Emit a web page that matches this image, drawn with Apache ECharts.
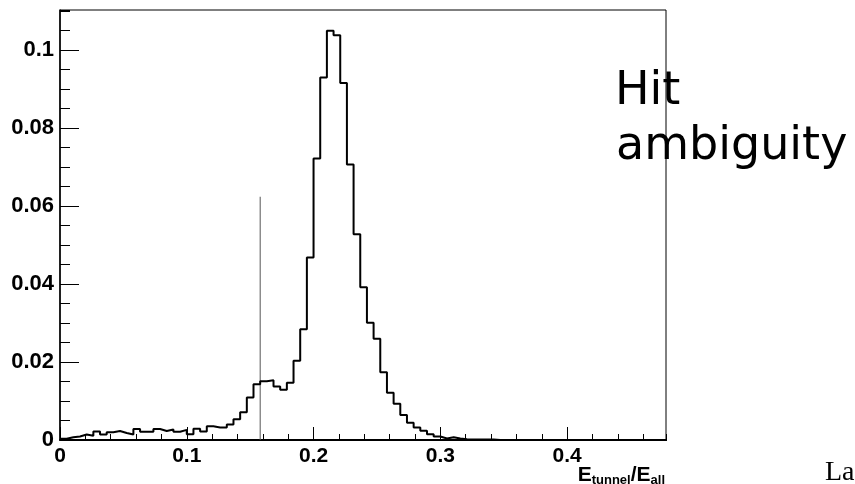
<!DOCTYPE html>
<html><head><meta charset="utf-8">
<script src="https://cdn.jsdelivr.net/npm/echarts@6/dist/echarts.min.js"></script>
<style>html,body{margin:0;padding:0;background:#fff}#c{width:855px;height:484px}</style>
</head><body><div id="c"></div>
<script>
// ---- data ----
const binStart = 0;
const binWidth = 0.005263;
const binValues = [
  0.0003, 0.0007, 0.0009, 0.0014, 0.0011, 0.0022, 0.0014, 0.0020, 0.0023, 0.0018,
  0.0014, 0.0028, 0.0021, 0.0021, 0.0028, 0.0023, 0.0027, 0.0021, 0.0026, 0.0015,
  0.0029, 0.0022, 0.0035, 0.0032, 0.0032, 0.0040, 0.0053, 0.0071, 0.0109, 0.0143,
  0.0151, 0.0153, 0.0137, 0.0129, 0.0147, 0.0203, 0.0284, 0.0468, 0.0722, 0.0930,
  0.1050, 0.1038, 0.0916, 0.0707, 0.0528, 0.0392, 0.0301, 0.0260, 0.0174, 0.0121,
  0.0093, 0.0064, 0.0044, 0.0032, 0.0024, 0.0015, 0.0009, 0.0004, 0.0007, 0.0004,
  0.0002, 0.0001, 0.0001, 0.0001, 0.0001, 0, 0, 0, 0, 0,
  0, 0, 0, 0, 0, 0, 0, 0, 0, 0,
  0, 0, 0, 0, 0, 0, 0, 0, 0, 0, 0
];
const cutX = 0.1579;
const cutTop = 0.0624;
const xRange = [0, 0.478];
const yRange = [0, 0.1103];
const xMajor = 0.1, xMinor = 0.02;
const yMajor = 0.02, yMinor = 0.005;
const xTitle = ['E', 'tunnel', '/E', 'all'];
const noteLines = ['Hit', 'ambiguity'];
const cornerText = 'La';

// ---- build series data ----
const histData = binValues.map((v, i) => [binStart + i * binWidth, v]);
histData.push([binStart + binValues.length * binWidth, binValues[binValues.length - 1]]);
const cutData = [[cutX, 0], [cutX, cutTop]];

const labelFont = { fontFamily: 'Liberation Sans, Arial, sans-serif', fontWeight: 'bold', color: '#000' };
const fmt = v => (Math.abs(v) < 1e-9 ? '0' : String(+v.toFixed(3)));

const chart = echarts.init(document.getElementById('c'), null, { renderer: 'canvas' });
chart.setOption({
  animation: false,
  backgroundColor: '#fff',
  grid: { left: 60, top: 10, right: 189, bottom: 44, show: true, borderColor: '#000', borderWidth: 1, backgroundColor: 'transparent' },
  xAxis: [
    { type: 'value', min: xRange[0], max: xRange[1], interval: xMajor, position: 'bottom',
      axisLine: { show: true, onZero: false, lineStyle: { color: '#000', width: 2 } },
      axisTick: { show: true, inside: true, length: 13, lineStyle: { color: '#000', width: 1 } },
      axisLabel: Object.assign({ fontSize: 21, margin: 6, showMaxLabel: false, formatter: fmt }, labelFont),
      splitLine: { show: false } },
    { type: 'value', min: xRange[0], max: xRange[1], interval: xMinor, position: 'bottom',
      axisLine: { show: false },
      axisTick: { show: true, inside: true, length: 6, lineStyle: { color: '#000', width: 1 } },
      axisLabel: { show: false }, splitLine: { show: false } }
  ],
  yAxis: [
    { type: 'value', min: yRange[0], max: yRange[1], interval: yMajor, position: 'left',
      axisLine: { show: true, onZero: false, lineStyle: { color: '#000', width: 1.5 } },
      axisTick: { show: true, inside: true, length: 19, lineStyle: { color: '#000', width: 1 } },
      axisLabel: Object.assign({ fontSize: 22, margin: 6, showMaxLabel: false, formatter: fmt }, labelFont),
      splitLine: { show: false } },
    { type: 'value', min: yRange[0], max: yRange[1], interval: yMinor, position: 'left',
      axisLine: { show: false },
      axisTick: { show: true, inside: true, length: 10, lineStyle: { color: '#000', width: 1 } },
      axisLabel: { show: false }, splitLine: { show: false } }
  ],
  series: [
    { type: 'line', xAxisIndex: 0, yAxisIndex: 0, data: cutData, symbol: 'none',
      lineStyle: { color: '#555', width: 1 }, z: 3, silent: true },
    { type: 'line', xAxisIndex: 0, yAxisIndex: 0, data: histData, step: 'end', symbol: 'none',
      lineStyle: { color: '#000', width: 2 }, z: 4, silent: true }
  ],
  graphic: [
    { type: 'text', left: 615, top: 69, z: 10, style: { text: noteLines[0], fontFamily: 'DejaVu Sans', fontSize: 46, fill: '#000' } },
    { type: 'text', left: 616, top: 124, z: 10, style: { text: noteLines[1], fontFamily: 'DejaVu Sans', fontSize: 46, fill: '#000' } },
    { type: 'text', left: 825, top: 459, z: 10, style: { text: cornerText, fontFamily: 'Liberation Serif', fontSize: 28, fill: '#000' } },
    { type: 'text', right: 190, top: 465, z: 10, style: {
        text: '{b|' + xTitle[0] + '}{s|' + xTitle[1] + '}{b|' + xTitle[2] + '}{s|' + xTitle[3] + '}',
        rich: {
          b: { fontFamily: 'Liberation Sans', fontWeight: 'bold', fontSize: 21, fill: '#000', verticalAlign: 'bottom', lineHeight: 22, padding: [0, 0, 1, 0] },
          s: { fontFamily: 'Liberation Sans', fontWeight: 'bold', fontSize: 13, fill: '#000', verticalAlign: 'bottom', lineHeight: 14 }
        } } }
  ]
});
</script></body></html>
